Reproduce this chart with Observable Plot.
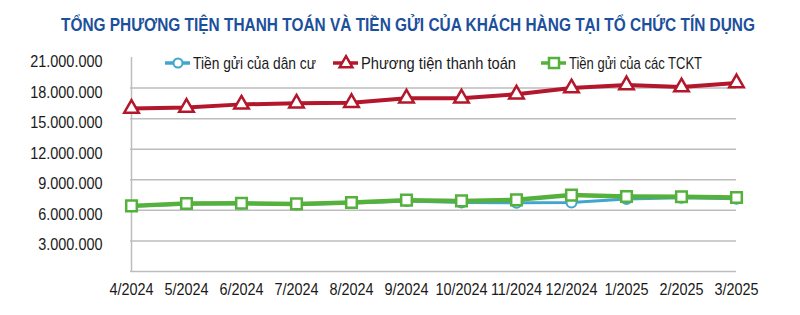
<!DOCTYPE html>
<html><head><meta charset="utf-8">
<script src="https://cdn.jsdelivr.net/npm/d3@7"></script>
<script src="https://cdn.jsdelivr.net/npm/@observablehq/plot@0.6"></script>
<style>
body{margin:0;background:#fff;width:800px;height:315px;overflow:hidden;position:relative;font-family:"Liberation Sans",Arial,sans-serif;}
svg{display:block;}
</style></head>
<body>
<div id="title"></div>
<div id="chart"></div>
<script>
const titleText = "TỔNG PHƯƠNG TIỆN THANH TOÁN VÀ TIỀN GỬI CỦA KHÁCH HÀNG TẠI TỔ CHỨC TÍN DỤNG";
const months = ["4/2024","5/2024","6/2024","7/2024","8/2024","9/2024","10/2024","11/2024","12/2024","1/2025","2/2025","3/2025"];
const residentDeposits = [6400000,6620000,6660000,6580000,6720000,6920000,6760000,6740000,6780000,7120000,7240000,7150000];
const paymentMeans = [16000000,16100000,16400000,16500000,16560000,17000000,17000000,17400000,18000000,18300000,18100000,18500000];
const orgDeposits = [6440000,6670000,6700000,6630000,6770000,7000000,6930000,7030000,7500000,7360000,7330000,7260000];
const yTicks = [3000000,6000000,9000000,12000000,15000000,18000000,21000000];
const gridValues = [0,3000000,6000000,9000000,12000000,15000000,18000000];
const seriesNames = ["Tiền gửi của dân cư","Phương tiện thanh toán","Tiền gửi của các TCKT"];

const colors = {blue:"#3fa6cf", red:"#b3172b", green:"#55b03c"};
const FONT = '"Liberation Sans",Arial,sans-serif';
const rows = (vals) => months.map((m,i)=>({month:m, v:vals[i]}));
const fmt = d => d3.format(",")(d).replace(/,/g,".");

// condense text horizontally (narrow font look)
function condense(root, factor){
  root.querySelectorAll("text").forEach(t=>{
    const len = t.getComputedTextLength();
    if (len>0){ t.setAttribute("textLength", (len*factor).toFixed(1)); t.setAttribute("lengthAdjust","spacingAndGlyphs"); }
  });
}

// title
const tsvg = d3.create("svg").attr("width",800).attr("height",40);
tsvg.append("text").attr("x",408).attr("y",31).attr("text-anchor","middle")
  .attr("font-family",FONT).attr("font-weight","bold").attr("font-size",17.5).attr("fill","#1c4f9c")
  .attr("textLength",694).attr("lengthAdjust","spacingAndGlyphs").text(titleText);
document.getElementById("title").appendChild(tsvg.node());

const chart = Plot.plot({
  width:800, height:275,
  marginTop:17, marginBottom:44, marginLeft:130, marginRight:64,
  style:{fontFamily:FONT, color:"#1a1a1a", background:"#fff"},
  x:{type:"point", domain:months, padding:0, label:null},
  y:{domain:[0,21000000], label:null},
  marks:[
    Plot.ruleY(gridValues,{stroke:"#bdbdbd", strokeWidth:1.5}),
    Plot.ruleX([months[0]],{y1:0, y2:21000000, stroke:"#bdbdbd", strokeWidth:1.5}),
    Plot.axisY({ticks:yTicks, tickFormat:fmt, tickSize:0, tickPadding:28, fontSize:17, dy:4, label:null}),
    Plot.axisX({tickSize:0, tickPadding:11, fontSize:17, label:null}),
    Plot.line(rows(paymentMeans),{x:"month", y:"v", stroke:colors.red, strokeWidth:4}),
    Plot.dot(rows(paymentMeans),{x:"month", y:"v", symbol:"triangle", r:5.4, fill:"#fff", stroke:colors.red, strokeWidth:2.5}),
    Plot.line(rows(residentDeposits),{x:"month", y:"v", stroke:colors.blue, strokeWidth:3}),
    Plot.dot(rows(residentDeposits),{x:"month", y:"v", symbol:"circle", r:5, fill:"#fff", stroke:colors.blue, strokeWidth:2}),
    Plot.line(rows(orgDeposits),{x:"month", y:"v", stroke:colors.green, strokeWidth:4.5}),
    Plot.dot(rows(orgDeposits),{x:"month", y:"v", symbol:"square", r:6, fill:"#fff", stroke:colors.green, strokeWidth:2.5})
  ]
});
document.getElementById("chart").appendChild(chart);
condense(chart, 0.85);

// legend (overlaid on top of plot area)
const legendItems = [
  {name:seriesNames[0], color:colors.blue, sym:"circle", left:165, w:123},
  {name:seriesNames[1], color:colors.red, sym:"triangle", left:333, w:155},
  {name:seriesNames[2], color:colors.green, sym:"square", left:541, w:133}
];
const lsvg = d3.create("svg").attr("width",800).attr("height",40)
  .style("position","absolute").style("left","0px").style("top","40px");
for (const it of legendItems){
  const g = lsvg.append("g").attr("transform",`translate(${it.left},23)`);
  g.append("line").attr("x1",0).attr("x2",25).attr("stroke",it.color).attr("stroke-width",3.5);
  if (it.sym==="circle") g.append("circle").attr("cx",13).attr("r",4.5).attr("fill","#fff").attr("stroke",it.color).attr("stroke-width",2);
  else if (it.sym==="triangle") g.append("path").attr("d",d3.symbol(d3.symbolTriangle,70)()).attr("transform","translate(13,0.5)").attr("fill","#fff").attr("stroke",it.color).attr("stroke-width",2.5);
  else g.append("rect").attr("x",8).attr("y",-5).attr("width",10).attr("height",10).attr("fill","#fff").attr("stroke",it.color).attr("stroke-width",2.5);
  g.append("text").attr("x",28).attr("y",6).attr("font-family",FONT).attr("font-size",17).attr("fill","#1a1a1a")
    .attr("textLength",it.w).attr("lengthAdjust","spacingAndGlyphs").text(it.name);
}
document.body.appendChild(lsvg.node());
</script>
</body></html>
